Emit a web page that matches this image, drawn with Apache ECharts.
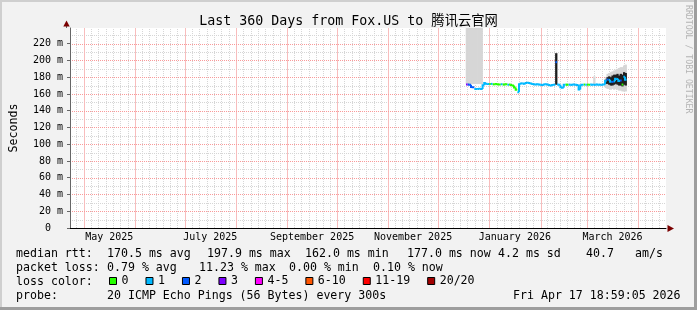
<!DOCTYPE html>
<html>
<head>
<meta charset="utf-8">
<script src="https://cdn.jsdelivr.net/npm/echarts@6/dist/echarts.min.js"></script>
<style>
  html, body { margin: 0; padding: 0; background: #f2f2f2; }
  #chart { width: 697px; height: 310px; }
</style>
</head>
<body>
<div id="chart"></div>
<script>
const DAY = 86400000;
const endTime = Date.UTC(2026, 3, 17, 18, 59, 5);
const startTime = endTime - 360 * DAY;
const firstDay = Date.UTC(2025, 11, 18, 12); // first sample, Dec 18 2025
const yMax = 238.7;

const titleText = 'Last 360 Days from Fox.US to 腾讯云官网';
const xTickLabels = ['May 2025', 'July 2025', 'September 2025', 'November 2025', 'January 2026', 'March 2026'];

const lossNames = ['0', '1', '2', '3', '4-5', '6-10', '11-19', '20/20'];
const lossColors = ['#26ff00', '#00b8ff', '#0059ff', '#7e00ff', '#ff00ff', '#ff5500', '#ff0000', '#a10000'];

// one median per day, starting Dec 18 2025
const medianRtt = [
  171.3, 171.3, 171.0, 168.2, 168.0, 166.0, 165.8, 166.0, 166.2, 166.0,
  170.5, 173.0, 172.2, 172.0, 171.8, 172.0, 171.6, 171.5, 171.8, 171.5,
  171.2, 171.6, 171.4, 171.2, 171.5, 171.0, 171.3, 170.6, 170.2, 167.8,
  165.0, 162.0, 171.5, 172.4, 172.6, 172.2, 173.2, 173.4, 173.0, 172.6,
  171.8, 171.5, 171.2, 171.6, 171.4, 171.0, 170.8, 171.2, 171.6, 171.3,
  170.6, 170.0, 170.8, 171.0, 197.9, 171.2, 171.0, 168.0, 167.4, 171.0,
  171.2, 171.0, 171.2, 171.1, 171.0, 171.2, 171.0, 170.8, 165.2, 170.4,
  171.0, 171.2, 171.0, 171.0, 171.1, 171.2, 171.0, 171.1, 171.0, 171.2,
  171.0, 171.1, 171.0, 171.2, 175.6, 177.2, 176.8, 174.6, 174.4, 175.0,
  178.2, 177.8, 175.4, 176.0, 171.2, 180.4, 177.0
];
// loss colour class per day (index into lossNames)
const lossClass = [
  3, 2, 2, 2, 2, 1, 1, 1, 1, 1,
  1, 1, 1, 1, 0, 1, 0, 0, 0, 0,
  0, 1, 0, 0, 0, 1, 0, 0, 0, 0,
  0, 1, 1, 1, 1, 1, 1, 1, 1, 1,
  1, 1, 1, 1, 1, 1, 1, 1, 1, 1,
  1, 1, 1, 1, 2, 1, 1, 1, 1, 1,
  0, 0, 1, 1, 1, 1, 1, 1, 1, 1,
  1, 0, 1, 0, 0, 1, 1, 1, 1, 1,
  1, 1, 1, 1, 1, 2, 1, 1, 2, 1,
  1, 1, 1, 2, 0, 1, 1
];

// smoke (spread of the pings), days given as index from firstDay
const smokeDays = [0, 1, 2, 3, 4, 5, 6, 7, 8, 9, 54, 77, 84, 85, 86, 87, 88, 89, 90, 91, 92, 93, 94, 95, 96];
const smokeLow = [171.8, 171.8, 171.8, 171.8, 171.8, 171.8, 171.8, 171.8, 171.8, 171.8, 171, 172, 167, 166, 166, 165, 166, 165, 166, 165, 164, 164, 163, 163, 163];
const smokeHigh = [300, 300, 300, 300, 300, 300, 300, 300, 300, 300, 208.6, 181, 180, 184, 185, 186, 187, 188, 189, 190, 191, 192, 192, 194, 195];
const coreDays = [54, 84, 85, 86, 87, 88, 89, 90, 91, 92, 93, 94, 95, 96];
const coreLow = [171, 172, 172, 171, 170, 170, 171, 172, 171, 170, 170, 169, 171, 170];
const coreHigh = [208.6, 177, 180, 181, 180, 182, 183, 183, 184, 182, 184, 183, 186, 185];

const rttStats = ['170.5 ms avg', '197.9 ms max', '162.0 ms min', '177.0 ms now', '4.2 ms sd', '40.7', 'am/s'];
const lossStats = ['0.79 % avg', '11.23 % max', '0.00 % min', '0.10 % now'];
const probeText = '20 ICMP Echo Pings (56 Bytes) every 300s';
const stampText = 'Fri Apr 17 18:59:05 2026';

const MONO = '"DejaVu Sans Mono", monospace';
const RED_GRID = '#f99a9a';
const RED_GRID_V = '#f8bdbd';
const GREY_GRID = '#d6d6d6';
const monthNames = ['January', 'February', 'March', 'April', 'May', 'June', 'July',
  'August', 'September', 'October', 'November', 'December'];

function midMonth(label) {
  const [name, year] = label.split(' ');
  const m = monthNames.indexOf(name);
  const a = Date.UTC(+year, m, 1);
  const b = Date.UTC(+year, m + 1, 1);
  return a + (b - a) / 2;
}
const labelAt = {};
xTickLabels.forEach((l) => { labelAt[midMonth(l)] = l; });

// vertical grid: red at month starts, grey splitting each month in seven
const vMajor = [];
const vMinor = [];
for (let k = 0; k < 14; k++) {
  const ms = Date.UTC(2025, 3 + k, 1);
  const me = Date.UTC(2025, 4 + k, 1);
  if (ms > startTime && ms < endTime) vMajor.push([ms, 0, yMax]);
  for (let j = 1; j < 7; j++) {
    const t = ms + (me - ms) * j / 7;
    if (t > startTime && t < endTime) vMinor.push([t, 0, yMax]);
  }
}
const hMajor = [];
const hMinor = [];
for (let v = 10; v <= 230; v += 10) (v % 20 === 0 ? hMajor : hMinor).push([startTime, v, endTime]);

function vLine(dash) {
  return function (params, api) {
    const t = api.value(0);
    const bottom = api.coord([t, api.value(1)]);
    const top = api.coord([t, api.value(2)]);
    const x = Math.round(bottom[0]) + 0.5;
    return {
      type: 'line',
      shape: { x1: x, y1: bottom[1], x2: x, y2: top[1] },
      style: { stroke: api.visual('color'), lineWidth: 1, lineDash: dash },
    };
  };
}

function renderHLine(params, api) {
  const v = api.value(1);
  const left = api.coord([api.value(0), v]);
  const right = api.coord([api.value(2), v]);
  const y = Math.round(left[1]) + 0.5;
  return {
    type: 'line',
    shape: { x1: left[0], y1: y, x2: right[0], y2: y },
    style: { stroke: api.visual('color'), lineWidth: 1, lineDash: [1, 1] },
  };
}

const gridSeries = (data, render, color, z) => ({
  type: 'custom', z, silent: true, clip: true,
  itemStyle: { color }, renderItem: render, data,
});

function dayTime(i) { return firstDay + i * DAY; }

function bandData(days, low, high) {
  return days.map((d, i) => [dayTime(d), low[i], high[i]]);
}

function renderBand(params, api) {
  const t = api.value(0);
  const top = api.coord([t - DAY / 2, api.value(2)]);
  const bottom = api.coord([t + DAY / 2, api.value(1)]);
  return {
    type: 'rect',
    shape: { x: top[0] - 0.3, y: top[1], width: bottom[0] - top[0] + 0.6, height: bottom[1] - top[1] },
    style: { fill: api.visual('color') },
  };
}

// step line per loss class; a riser is drawn only when the day before has the same class
function renderMedian(params, api) {
  const t = api.value(0);
  const left = t - DAY / 2;
  const right = t + DAY / 2;
  const points = [];
  if (api.value(3)) points.push(api.coord([left, api.value(2)]));
  points.push(api.coord([left, api.value(1)]), api.coord([right, api.value(1)]));
  return {
    type: 'polyline',
    shape: { points },
    style: { stroke: api.visual('color'), lineWidth: 2, fill: null },
  };
}

const medianSeries = lossNames.map((name, k) => ({
  name,
  type: 'custom',
  z: 4,
  clip: true,
  silent: true,
  itemStyle: { color: lossColors[k] },
  renderItem: renderMedian,
  data: medianRtt
    .map((v, i) => [
      dayTime(i), v,
      i > 0 ? medianRtt[i - 1] : v,
      i > 0 && lossClass[i - 1] === lossClass[i] ? 1 : 0,
      lossClass[i],
    ])
    .filter((row) => row[4] === k),
}));

const textRow = (x, y, text) => ({
  type: 'text', x, y, z: 10,
  style: { text, font: '11.6px ' + MONO, fill: '#000', verticalAlign: 'middle' },
});

const rttX = [107, 207, 305, 407, 498, 586, 635];
const lossX = [107, 199, 289, 373];

const graphics = [
  textRow(16, 254, 'median rtt:'),
  ...rttStats.map((s, i) => textRow(rttX[i], 254, s)),
  textRow(16, 268, 'packet loss:'),
  ...lossStats.map((s, i) => textRow(lossX[i], 268, s)),
  textRow(16, 282, 'loss color:'),
  textRow(16, 296, 'probe:'),
  textRow(107, 296, probeText),
  textRow(513, 296, stampText),
  {
    type: 'text', x: 688, y: 5, rotation: -Math.PI / 2, z: 10,
    style: { text: 'RRDTOOL / TOBI OETIKER', font: '8.2px ' + MONO, fill: '#b4b4b4', verticalAlign: 'middle' },
  },
  // axis arrows
  { type: 'line', z: 10, shape: { x1: 66.5, y1: 25, x2: 66.5, y2: 28 }, style: { stroke: '#666', lineWidth: 1 } },
  { type: 'polygon', z: 11, shape: { points: [[66.5, 20.5], [63.3, 26.5], [69.7, 26.5]] }, style: { fill: '#7a0000' } },
  { type: 'polygon', z: 11, shape: { points: [[667.5, 225], [667.5, 232], [674, 228.5]] }, style: { fill: '#7a0000' } },
  // frame shading
  { type: 'rect', z: 12, shape: { x: 0, y: 0, width: 697, height: 2 }, style: { fill: '#cfcfcf' } },
  { type: 'rect', z: 12, shape: { x: 0, y: 0, width: 2, height: 310 }, style: { fill: '#cfcfcf' } },
  { type: 'rect', z: 12, shape: { x: 694, y: 0, width: 3, height: 310 }, style: { fill: '#9e9e9e' } },
  { type: 'rect', z: 12, shape: { x: 0, y: 307, width: 697, height: 3 }, style: { fill: '#9e9e9e' } },
];

const chart = echarts.init(document.getElementById('chart'), null, { renderer: 'canvas' });

chart.setOption({
  animation: false,
  backgroundColor: '#f2f2f2',
  title: {
    text: titleText,
    left: 'center',
    top: 15,
    padding: 0,
    textStyle: { fontFamily: '"DejaVu Sans Mono", "Noto Sans CJK SC", monospace', fontSize: 13.3, fontWeight: 'normal', color: '#000' },
  },
  legend: {
    data: lossNames,
    left: 109,
    top: 275,
    padding: 0,
    icon: 'rect',
    itemWidth: 7,
    itemHeight: 7,
    itemGap: 17,
    selectedMode: false,
    itemStyle: { borderColor: '#000', borderWidth: 1 },
    textStyle: { fontFamily: MONO, fontSize: 11.6, color: '#000' },
  },
  grid: {
    left: 66,
    top: 28,
    width: 600,
    height: 200,
    show: true,
    backgroundColor: '#ffffff',
    borderWidth: 0,
  },
  xAxis: {
    type: 'value',
    min: startTime,
    max: endTime,
    z: 6,
    splitLine: { show: false },
    axisTick: { show: false },
    axisLine: { lineStyle: { color: '#000', width: 1 } },
    axisLabel: {
      customValues: xTickLabels.map(midMonth),
      formatter: (v) => labelAt[v] || '',
      fontFamily: MONO,
      fontSize: 10,
      color: '#000',
      margin: 4,
    },
  },
  yAxis: {
    type: 'value',
    min: 0,
    max: yMax,
    interval: 20,
    z: 6,
    name: 'Seconds',
    nameLocation: 'middle',
    nameRotate: 90,
    nameGap: 50,
    nameTextStyle: { fontFamily: MONO, fontSize: 11.6, color: '#000' },
    splitLine: { show: false },
    axisLine: { show: true, lineStyle: { color: '#666', width: 1 } },
    axisTick: { show: true, length: 3, lineStyle: { color: '#666' } },
    axisLabel: {
      showMaxLabel: false,
      formatter: (v) => (v === 0 ? '0  ' : v + ' m'),
      fontFamily: MONO,
      fontSize: 10,
      color: '#000',
      margin: 7,
    },
  },
  graphic: graphics,
  series: [
    gridSeries(vMinor, vLine([1, 1]), GREY_GRID, 1),
    gridSeries(hMinor, renderHLine, GREY_GRID, 1),
    gridSeries(vMajor, vLine(null), RED_GRID_V, 1),
    gridSeries(hMajor, renderHLine, RED_GRID, 1),
    {
      name: 'smoke',
      type: 'custom',
      z: 2,
      clip: true,
      silent: true,
      itemStyle: { color: '#d6d6d6' },
      renderItem: renderBand,
      data: bandData(smokeDays, smokeLow, smokeHigh),
    },
    {
      name: 'smoke core',
      type: 'custom',
      z: 3,
      clip: true,
      silent: true,
      itemStyle: { color: '#1e1e1e' },
      renderItem: renderBand,
      data: bandData(coreDays, coreLow, coreHigh),
    },
    ...medianSeries,
  ],
});
</script>
</body>
</html>
